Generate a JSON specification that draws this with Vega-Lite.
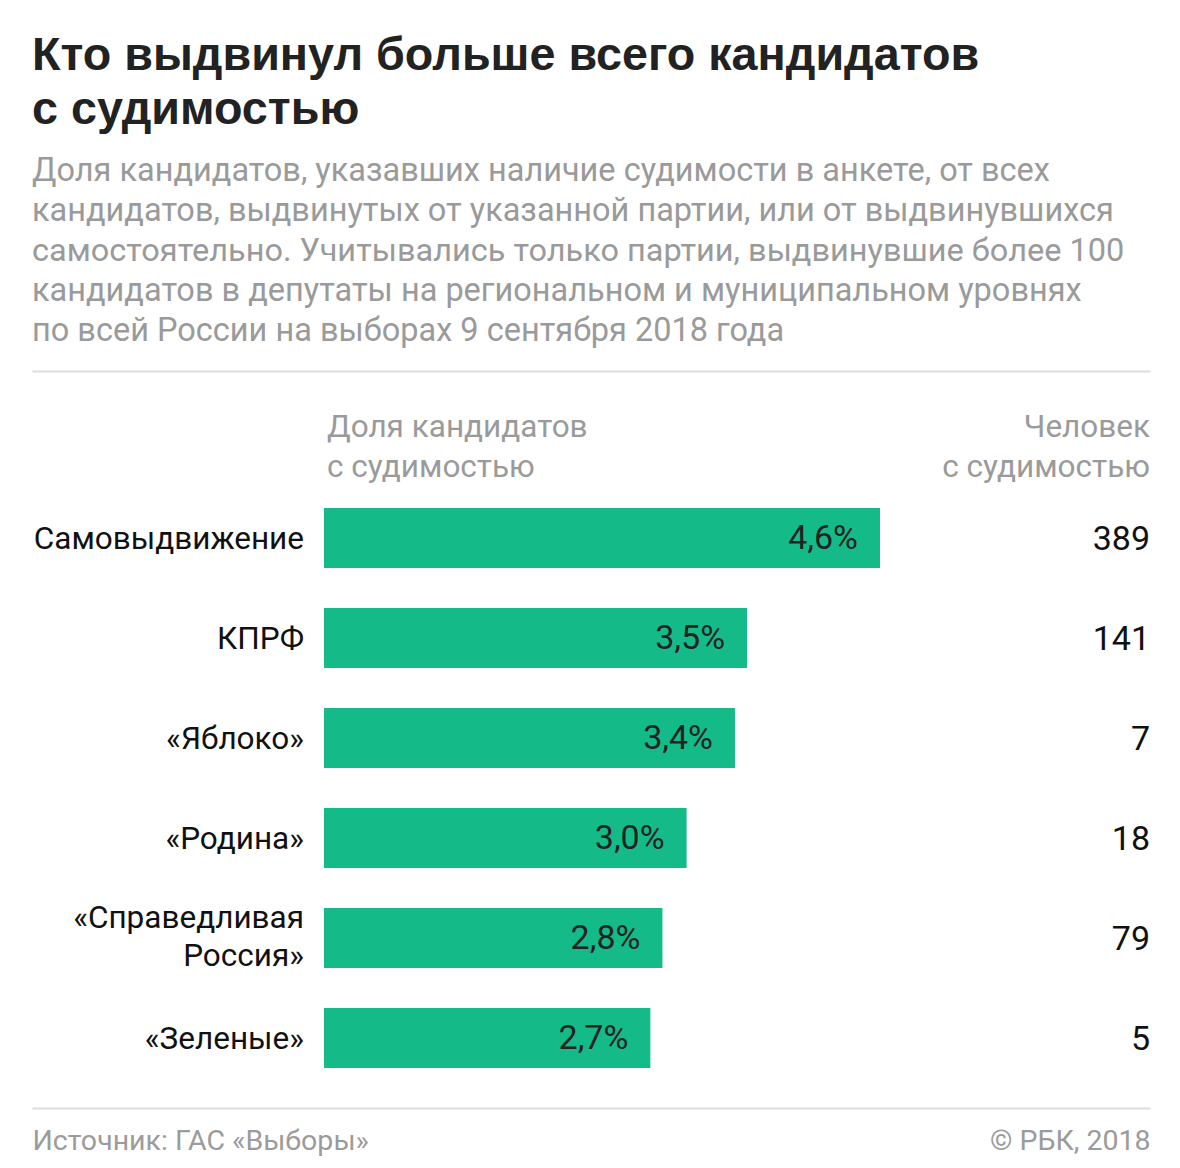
{
  "$schema": "https://vega.github.io/schema/vega-lite/v6.json",
  "width": 1118,
  "height": 737,
  "autosize": {"type": "none"},
  "padding": {"left": 32, "right": 30, "top": 371, "bottom": 60},
  "background": "white",
  "title": {
    "text": ["Кто выдвинул больше всего кандидатов", "с судимостью"],
    "subtitle": [
      "Доля кандидатов, указавших наличие судимости в анкете, от всех",
      "кандидатов, выдвинутых от указанной партии, или от выдвинувшихся",
      "самостоятельно. Учитывались только партии, выдвинувшие более 100",
      "кандидатов в депутаты на региональном и муниципальном уровнях",
      "по всей России на выборах 9 сентября 2018 года"
    ],
    "anchor": "start",
    "frame": "group",
    "font": "Liberation Sans",
    "fontSize": 46.7,
    "fontWeight": "bold",
    "lineHeight": 54,
    "color": "#222222",
    "subtitleFont": "Roboto",
    "subtitleFontSize": 32.5,
    "subtitleLineHeight": 40,
    "subtitleColor": "#9a9a9a",
    "subtitlePadding": 22,
    "offset": 23
  },
  "datasets": {
    "parties": [
      {"party": "Самовыдвижение", "share": 0.046, "count": 389},
      {"party": "КПРФ", "share": 0.035, "count": 141},
      {"party": "«Яблоко»", "share": 0.034, "count": 7},
      {"party": "«Родина»", "share": 0.030, "count": 18},
      {"party": "«Справедливая\nРоссия»", "share": 0.028, "count": 79},
      {"party": "«Зеленые»", "share": 0.027, "count": 5}
    ]
  },
  "layer": [
    {
      "data": {"name": "parties"},
      "mark": {"type": "bar", "color": "#14BB88"},
      "encoding": {
        "x": {
          "field": "share",
          "type": "quantitative",
          "scale": {"domain": [-0.024158, 0.068338], "nice": false, "zero": false},
          "axis": {
            "orient": "bottom",
            "values": [-0.024158, 0.068338],
            "labelExpr": "datum.value < 0 ? 'Источник: ГАС «Выборы»' : '© РБК, 2018'",
            "labelFlush": true,
            "labelOverlap": false,
            "labelLimit": 800,
            "ticks": false,
            "grid": false,
            "domainColor": "#dddddd",
            "domainWidth": 2,
            "labelFont": "Roboto",
            "labelFontSize": 28.5,
            "labelColor": "#9b9b9b",
            "labelPadding": 18,
            "title": null
          }
        },
        "x2": {"datum": 0},
        "y": {
          "field": "party",
          "type": "nominal",
          "sort": null,
          "scale": {
            "domain": ["header", "Самовыдвижение", "КПРФ", "«Яблоко»", "«Родина»", "«Справедливая\nРоссия»", "«Зеленые»"],
            "paddingInner": 0.4,
            "paddingOuter": 0.385,
            "align": 0.48
          },
          "axis": null
        }
      }
    },
    {
      "data": {"name": "parties"},
      "mark": {"type": "text", "align": "right", "baseline": "middle", "dx": -22, "dy": 1, "font": "Roboto", "fontSize": 34, "color": "#222222"},
      "encoding": {
        "x": {
          "field": "share",
          "type": "quantitative",
          "axis": {
            "orient": "top",
            "labels": false,
            "ticks": false,
            "grid": false,
            "title": null,
            "domainColor": "#dddddd",
            "domainWidth": 2
          }
        },
        "y": {"field": "party", "type": "nominal"},
        "text": {"field": "share", "type": "quantitative", "format": ".1%"}
      }
    },
    {
      "data": {"name": "parties"},
      "mark": {"type": "text", "align": "right", "baseline": "middle", "dx": -20, "dy": {"expr": "indexof(datum.party, '\\n') >= 0 ? -19 : 2"}, "font": "Roboto", "fontSize": 31.5, "lineHeight": 38, "lineBreak": "\n", "color": "#111111"},
      "encoding": {
        "x": {"datum": 0, "type": "quantitative", "axis": null},
        "y": {"field": "party", "type": "nominal"},
        "text": {"field": "party", "type": "nominal"}
      }
    },
    {
      "data": {"name": "parties"},
      "mark": {"type": "text", "align": "right", "baseline": "middle", "dy": 2, "font": "Roboto", "fontSize": 34, "color": "#111111"},
      "encoding": {
        "x": {"datum": 0.068338, "type": "quantitative", "axis": null},
        "y": {"field": "party", "type": "nominal"},
        "text": {"field": "count", "type": "quantitative"}
      }
    },
    {
      "data": {"values": [{"party": "header", "label": "Доля кандидатов\nс судимостью"}]},
      "mark": {"type": "text", "align": "left", "baseline": "middle", "dx": 3, "dy": -10, "font": "Roboto", "fontSize": 31.5, "lineHeight": 40, "lineBreak": "\n", "color": "#9a9a9a"},
      "encoding": {
        "x": {"datum": 0, "type": "quantitative", "axis": null},
        "y": {"field": "party", "type": "nominal"},
        "text": {"field": "label", "type": "nominal"}
      }
    },
    {
      "data": {"values": [{"party": "header", "label": "Человек\nс судимостью"}]},
      "mark": {"type": "text", "align": "right", "baseline": "middle", "dy": -10, "font": "Roboto", "fontSize": 31.5, "lineHeight": 40, "lineBreak": "\n", "color": "#9a9a9a"},
      "encoding": {
        "x": {"datum": 0.068338, "type": "quantitative", "axis": null},
        "y": {"field": "party", "type": "nominal"},
        "text": {"field": "label", "type": "nominal"}
      }
    }
  ],
  "resolve": {"axis": {"x": "independent"}},
  "config": {
    "view": {"stroke": null},
    "locale": {
      "number": {"decimal": ",", "thousands": " ", "grouping": [3], "currency": ["", " ₽"], "percent": "%"}
    }
  }
}
